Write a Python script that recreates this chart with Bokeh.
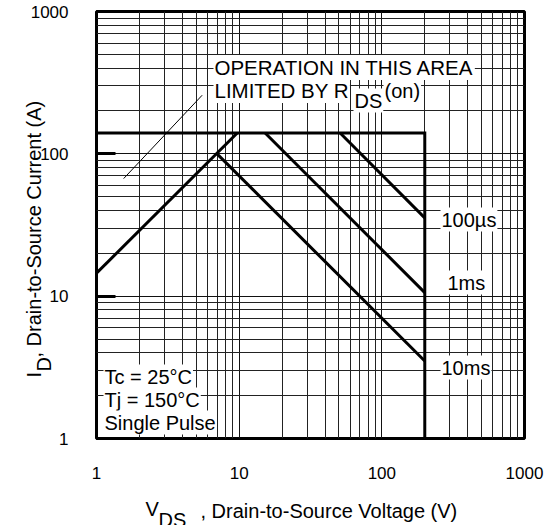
from bokeh.plotting import figure
from bokeh.models import Label, FixedTicker, Range1d, BasicTickFormatter
from bokeh.layouts import column
from bokeh.embed import file_html
from bokeh.resources import INLINE

# ---- data ----
x_ticks = [1, 10, 100, 1000]
y_ticks = [1, 10, 100, 1000]

limit_v = [1, 200, 200]          # current limit + voltage limit (V)
limit_i = [140, 140, 1]          # (A)
rds_v = [1, 9.7]                 # RDS(on) limited line
rds_i = [14.5, 140]
us100_v = [51, 200]              # 100 µs
us100_i = [140, 35.5]
ms1_v = [15.2, 200]              # 1 ms
ms1_i = [140, 10.6]
ms10_v = [7, 200]                # 10 ms
ms10_i = [100, 3.5]
leader_v = [1.55, 5.5]           # pointer line to the RDS(on) note
leader_i = [67, 258]

FONT = "Liberation Sans"

# page geometry (pixels)
FL, FR, FT, FB = 96, 524, 11, 438     # plot frame
W, H = 548, 525                       # figure size


def px_x(px):
    return 10 ** (3 * (px - FL) / (FR - FL))


def px_y(py):
    return 10 ** (3 * (FB - py) / (FB - FT))


p = figure(frame_width=FR - FL, frame_height=FB - FT,
           x_axis_type="log", y_axis_type="log",
           x_range=Range1d(1, 1000), y_range=Range1d(1, 1000),
           output_backend="svg", toolbar_location=None,
           min_border_left=FL, min_border_right=W - FR,
           min_border_top=FT, min_border_bottom=H - FB)
p.frame_align = False

p.background_fill_color = "white"
p.border_fill_color = "white"
p.outline_line_color = "black"
p.outline_line_width = 3

minor = []
for dec in (1, 10, 100):
    for k in range(2, 10):
        minor.append(dec * k)

xt = FixedTicker(ticks=x_ticks, minor_ticks=minor)
yt = FixedTicker(ticks=y_ticks, minor_ticks=minor)
p.xaxis.ticker = xt
p.yaxis.ticker = yt
p.xgrid.ticker = xt
p.ygrid.ticker = yt
p.xaxis.formatter = BasicTickFormatter()
p.yaxis.formatter = BasicTickFormatter()

for g in (p.xgrid, p.ygrid):
    g.grid_line_color = "#111111"
    g.grid_line_width = 1
    g.grid_line_alpha = 1
    g.minor_grid_line_color = "#222222"
    g.minor_grid_line_width = 1

for ax in (p.xaxis, p.yaxis):
    ax.axis_line_color = None
    ax.minor_tick_line_color = None
    ax.major_label_text_font = FONT
    ax.major_label_text_font_size = "17px"
    ax.major_label_text_color = "black"

p.xaxis.major_tick_line_color = None
p.xaxis.major_label_standoff = 22
p.yaxis.major_tick_in = 19
p.yaxis.major_tick_out = 0
p.yaxis.major_tick_line_width = 3
p.yaxis.major_tick_line_color = "black"
p.yaxis.major_label_standoff = 24

# SOA lines
for vx, iy in ((limit_v, limit_i), (rds_v, rds_i), (us100_v, us100_i),
               (ms1_v, ms1_i), (ms10_v, ms10_i)):
    p.line(vx, iy, line_color="black", line_width=3, line_join="miter")
p.line(leader_v, leader_i, line_color="black", line_width=1)


def lab(txt, px, py, size="20px", bg=True):
    kw = dict(x=px_x(px), y=px_y(py), text=txt, text_font=FONT,
              text_font_size=size, text_color="black",
              text_baseline="alphabetic", text_align="left")
    if bg:
        kw.update(background_fill_color="white", padding=1)
    p.add_layout(Label(**kw))


# notes inside the plot
lab("OPERATION IN THIS AREA", 213, 67, size="20.5px")
lab("LIMITED BY R", 213, 90, size="20.5px")
lab("DS", 353, 100)
lab("(on)", 383, 90)
lab("100µs", 440, 219)
lab("1ms", 446, 282)
lab("10ms", 440, 367)
lab("Tc = 25°C", 103, 376)
lab("Tj = 150°C", 103, 399)
lab("Single Pulse", 103, 422)

# transparent overlay figure carrying the axis titles (page pixel coords,
# y measured from the bottom of the page)
over = figure(frame_width=W, frame_height=H, title=None,
              x_range=Range1d(0, W), y_range=Range1d(0, H),
              output_backend="svg", toolbar_location=None,
              x_axis_location=None, y_axis_location=None,
              min_border=0, min_border_left=0, min_border_right=0,
              min_border_top=0, min_border_bottom=0)
over.frame_align = False
over.outline_line_color = None
over.background_fill_color = None
over.border_fill_color = None
over.grid.visible = False
over.styles = {"margin-top": f"-{H}px"}


def olab(txt, px, py, angle=0.0):
    over.add_layout(Label(x=px, y=H - py, text=txt, text_font=FONT,
                          text_font_size="20px", text_color="black",
                          text_baseline="alphabetic", text_align="left",
                          angle=angle))


olab("V", 145, 508)
olab("DS", 158, 519)
olab(", Drain-to-Source Voltage (V)", 200, 510)
olab("I", 33, 377, angle=1.5707963)
olab("D", 43, 371, angle=1.5707963)
olab(",  Drain-to-Source Current (A)", 33, 357, angle=1.5707963)

layout = column(p, over, spacing=0)

open("out.html", "w").write(file_html(layout, INLINE))
